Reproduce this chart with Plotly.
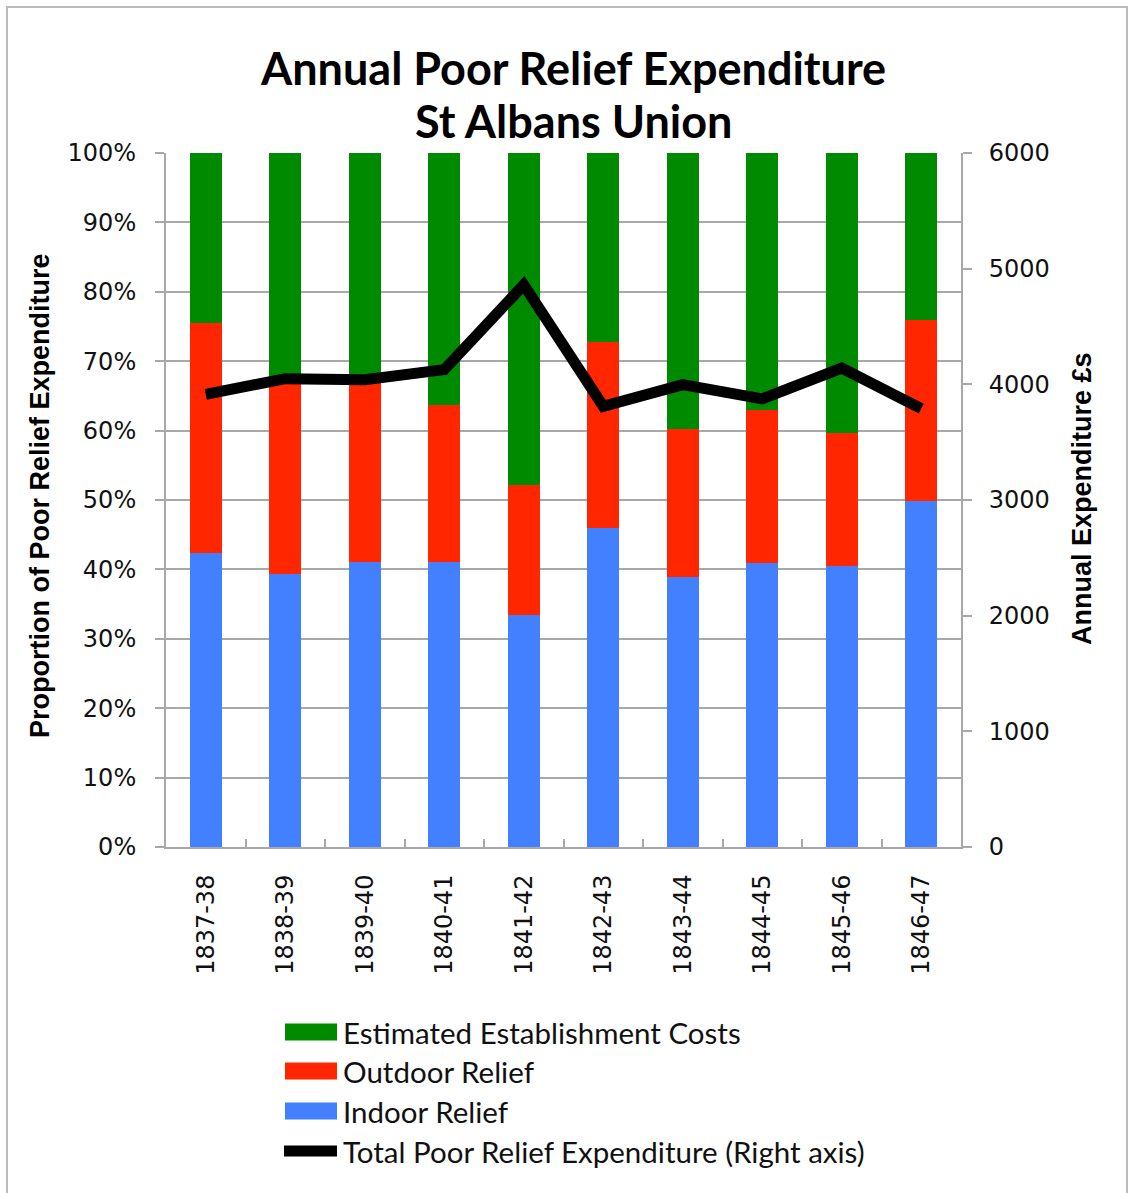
import plotly.graph_objects as go

years = ["1837-38", "1838-39", "1839-40", "1840-41", "1841-42",
         "1842-43", "1843-44", "1844-45", "1845-46", "1846-47"]
indoor = [42.4, 39.4, 41.0, 41.1, 33.4, 45.9, 38.9, 40.9, 40.5, 49.9]
outdoor = [33.1, 27.9, 25.9, 22.6, 18.8, 26.9, 21.3, 22.0, 19.2, 26.1]
establishment = [24.5, 32.7, 33.1, 36.3, 47.8, 27.2, 39.8, 37.1, 40.3, 24.0]
total = [3914, 4049, 4040, 4127, 4860, 3810, 3997, 3874, 4141, 3790]

pct_ticks = list(range(0, 101, 10))
pct_labels = [f"{v}%" for v in pct_ticks]
exp_ticks = list(range(0, 6001, 1000))

title_lines = ["Annual Poor Relief Expenditure", "St Albans Union"]
names = ["Estimated Establishment Costs", "Outdoor Relief", "Indoor Relief",
         "Total Poor Relief Expenditure (Right axis)"]
colors = ["#008A00", "#FF2600", "#4280FF", "#000000"]

W, H = 1130, 1193
L, R, T, B = 166, 961, 153, 847
PW, PH = R - L, B - T


def px(x):
    return (x - L) / PW


def py(y):
    return (B - y) / PH


fig = go.Figure()
fig.add_trace(go.Bar(x=years, y=indoor, name=names[2], marker_color=colors[2],
                     marker_line_width=0, width=0.4, showlegend=False))
fig.add_trace(go.Bar(x=years, y=outdoor, name=names[1], marker_color=colors[1],
                     marker_line_width=0, width=0.4, showlegend=False))
fig.add_trace(go.Bar(x=years, y=establishment, name=names[0], marker_color=colors[0],
                     marker_line_width=0, width=0.4, showlegend=False))
fig.add_trace(go.Scatter(x=years, y=total, name=names[3], yaxis="y2", mode="lines",
                         line=dict(color="black", width=11), showlegend=False))

grid = "#A8A8A8"
tickfont = dict(family="DejaVu Sans", size=24, color="#111111")

fig.update_layout(
    width=W, height=H,
    margin=dict(l=L, r=W - R, t=T, b=H - B),
    paper_bgcolor="white", plot_bgcolor="white",
    barmode="stack",
    xaxis=dict(type="category", showline=True, linecolor=grid, linewidth=2,
               ticks="inside", tickson="boundaries", ticklen=8, tickcolor=grid,
               tickwidth=1.5, tickangle=-90, tickfont=tickfont,
               ticklabelstandoff=16, showgrid=False),
    yaxis=dict(range=[0, 100], tickmode="array", tickvals=pct_ticks, ticktext=pct_labels,
               showgrid=True, gridcolor=grid, gridwidth=1.5,
               showline=True, linecolor=grid, linewidth=2,
               ticks="outside", ticklen=9, tickcolor=grid, tickwidth=1.5,
               tickfont=tickfont, ticklabelstandoff=14, zeroline=False),
    yaxis2=dict(range=[0, 6000], tickmode="array", tickvals=exp_ticks,
                overlaying="y", side="right", showgrid=False,
                showline=True, linecolor=grid, linewidth=2,
                ticks="outside", ticklen=9, tickcolor=grid, tickwidth=1.5,
                tickfont=tickfont, ticklabelstandoff=12, zeroline=False),
)

# Titles
for line, yc in zip(title_lines, [68, 121]):
    fig.add_annotation(text=f"<b>{line}</b>",
                       xref="paper", yref="paper", x=px(573), y=py(yc),
                       xanchor="center", yanchor="middle", showarrow=False,
                       font=dict(family="Lato", size=45, color="black"))
fig.add_annotation(text="<b>Proportion of Poor Relief Expenditure</b>",
                   xref="paper", yref="paper", x=px(40), y=py(496), textangle=-90,
                   xanchor="center", yanchor="middle", showarrow=False,
                   font=dict(family="Liberation Sans", size=27, color="black"))
fig.add_annotation(text="<b>Annual Expenditure £s</b>",
                   xref="paper", yref="paper", x=px(1082), y=py(499), textangle=-90,
                   xanchor="center", yanchor="middle", showarrow=False,
                   font=dict(family="Liberation Sans", size=27, color="black"))

# Custom legend
rows = [1032, 1071, 1111, 1151]
for i, (nm, col, yc) in enumerate(zip(names, colors, rows)):
    if i < 3:
        fig.add_shape(type="rect", xref="paper", yref="paper",
                      x0=px(285), x1=px(337), y0=py(yc + 8.5), y1=py(yc - 8.5),
                      fillcolor=col, line_width=0)
    else:
        fig.add_shape(type="line", xref="paper", yref="paper",
                      x0=px(284), x1=px(337), y0=py(yc), y1=py(yc),
                      line=dict(color=col, width=11))
    fig.add_annotation(text=nm, xref="paper", yref="paper", x=px(341), y=py(yc),
                       xanchor="left", yanchor="middle", showarrow=False,
                       font=dict(family="Lato", size=29.5, color="#111111"))

# Outer border
fig.add_shape(type="rect", xref="paper", yref="paper",
              x0=px(7), x1=px(1127), y0=py(1215), y1=py(7),
              line=dict(color="#BBBBBB", width=2), fillcolor="rgba(0,0,0,0)", layer="below")

fig.write_html("out.html")
